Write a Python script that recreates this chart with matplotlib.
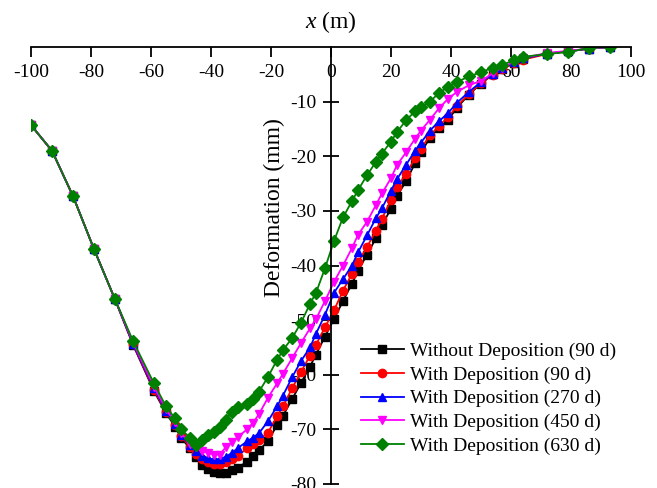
import matplotlib
matplotlib.use('Agg')
import matplotlib.pyplot as plt

plt.rcParams['font.family'] = ['Liberation Serif', 'DejaVu Serif']
plt.rcParams['mathtext.fontset'] = 'custom'
plt.rcParams['mathtext.rm'] = 'Liberation Serif'
plt.rcParams['mathtext.it'] = 'Liberation Serif:italic'

# distance along x (m), shared by all series
x_m = [-100, -93, -86, -79, -72, -66, -59, -55, -52, -50, -47, -45, -43, -41, -39,
       -37, -35, -33, -31, -28, -26, -24, -21, -18, -16, -13, -10, -7, -5, -2,
       1, 4, 7, 9, 12, 15, 17, 20, 22, 25, 28, 30, 33, 36, 39, 42, 46, 50, 54,
       57, 61, 64, 72, 79, 86, 93]

left_part = [-14.3, -19.0, -27.3, -37.0, -46.2]

no_dep_90 = left_part + [
    -54.5, -63.0, -67.0, -69.5, -71.5, -73.5, -75.0, -76.5, -77.3, -77.8,
    -78.0, -77.9, -77.5, -77.0, -75.9, -74.9, -73.8, -72.2, -69.2, -67.5,
    -64.5, -61.5, -58.5, -56.3, -53.0, -49.8, -46.5, -43.3, -41.0, -38.0,
    -35.0, -32.6, -29.6, -27.3, -24.6, -21.3, -19.3, -16.6, -14.8, -13.4,
    -11.1, -8.7, -6.7, -5.0, -4.0, -2.9, -2.2, -1.2, -0.8, -0.3, 0.0]

dep_90 = left_part + [
    -54.4, -62.8, -66.8, -69.2, -71.2, -73.2, -74.5, -75.5, -76.0, -76.3,
    -76.3, -76.0, -75.5, -74.8, -73.5, -72.7, -71.9, -70.6, -67.6, -65.8,
    -62.5, -59.5, -56.5, -54.5, -51.3, -48.2, -44.6, -41.5, -39.4, -36.6,
    -33.6, -31.4, -28.0, -25.7, -23.2, -20.4, -18.6, -16.2, -14.4, -12.9,
    -10.8, -8.6, -6.6, -5.1, -4.1, -3.0, -2.3, -1.3, -0.8, -0.3, 0.0]

dep_270 = left_part + [
    -54.3, -62.5, -66.6, -69.0, -71.0, -72.9, -74.0, -74.8, -75.3, -75.5,
    -75.4, -75.0, -74.3, -73.4, -72.2, -71.5, -70.7, -68.5, -65.8, -63.8,
    -60.5, -57.5, -55.0, -52.5, -49.0, -45.0, -42.5, -40.0, -37.6, -34.5,
    -31.3, -29.5, -26.3, -24.2, -21.6, -19.0, -17.5, -15.3, -13.6, -12.1,
    -10.2, -8.2, -6.4, -4.9, -3.9, -2.8, -2.1, -1.2, -0.8, -0.3, 0.0]

dep_450 = left_part + [
    -54.1, -62.2, -66.3, -68.7, -70.7, -72.6, -73.2, -74.0, -74.3, -74.6,
    -74.6, -73.2, -72.3, -71.4, -70.0, -68.8, -67.2, -64.2, -61.6, -59.8,
    -57.0, -54.2, -51.5, -49.8, -46.5, -43.0, -40.0, -36.8, -34.4, -32.0,
    -28.9, -26.8, -24.0, -21.6, -19.3, -16.8, -15.3, -13.3, -11.2, -9.5,
    -8.2, -7.0, -6.2, -4.8, -3.8, -2.7, -2.0, -1.1, -0.7, -0.3, 0.0]

dep_630 = left_part + [
    -53.8, -61.6, -65.8, -68.0, -70.0, -71.5, -72.9, -72.0, -71.1, -70.5,
    -69.5, -68.2, -66.8, -65.9, -65.4, -64.4, -63.1, -60.4, -57.3, -55.5,
    -53.3, -50.5, -47.0, -45.0, -40.5, -35.5, -31.2, -28.2, -26.2, -23.5,
    -21.0, -19.5, -17.3, -15.6, -13.4, -11.8, -11.0, -10.0, -8.4, -7.3,
    -6.4, -5.4, -4.6, -3.8, -3.3, -2.4, -1.8, -1.3, -0.9, -0.2, 0.0]

series = [
    ('Without Deposition (90 d)', no_dep_90, 'black', 's'),
    ('With Deposition (90 d)', dep_90, 'red', 'o'),
    ('With Deposition (270 d)', dep_270, 'blue', '^'),
    ('With Deposition (450 d)', dep_450, 'magenta', 'v'),
    ('With Deposition (630 d)', dep_630, 'green', 'D'),
]

x_ticks = [-100, -80, -60, -40, -20, 0, 20, 40, 60, 80, 100]
y_ticks = [-10, -20, -30, -40, -50, -60, -70, -80]

fig = plt.figure(figsize=(6.57, 4.88), dpi=100)
ax = fig.add_axes([31 / 657, 4 / 488, 600 / 657, 437 / 488])

for label, ys, color, marker in series:
    ax.plot(x_m, ys, color=color, marker=marker, markersize=6, linewidth=1.3,
            label=label)

ax.set_xlim(-100, 100)
ax.set_ylim(-80, 0)

# x axis sits on the top edge (y = 0), y axis crosses at x = 0
ax.spines['bottom'].set_position(('data', 0))
ax.spines['left'].set_position(('data', 0))
ax.spines['top'].set_visible(False)
ax.spines['right'].set_visible(False)
for s in ('bottom', 'left'):
    ax.spines[s].set_linewidth(1.3)

ax.set_xticks(x_ticks)
ax.set_xticklabels([str(t) for t in x_ticks])
ax.set_yticks(y_ticks)
ax.set_yticklabels([str(t) for t in y_ticks])
ax.tick_params(axis='x', direction='out', length=7, width=1.3, labelsize=14, pad=5)
ax.tick_params(axis='y', direction='inout', length=11, width=1.3, labelsize=14, pad=5)

ax.xaxis.set_label_position('top')
ax.set_xlabel('$x$ (m)', fontsize=17, labelpad=14)
ax.set_ylabel('Deformation (mm)', fontsize=17)
ax.yaxis.set_label_coords(0.423, 0.632)

ax.legend(loc='upper left', bbox_to_anchor=(361 / 657, 1 - 342 / 488),
          bbox_transform=fig.transFigure, frameon=False, fontsize=14,
          handlelength=2.2, handletextpad=0.3, labelspacing=0.32,
          borderpad=0, borderaxespad=0)

fig.savefig('out.png', dpi=100)
